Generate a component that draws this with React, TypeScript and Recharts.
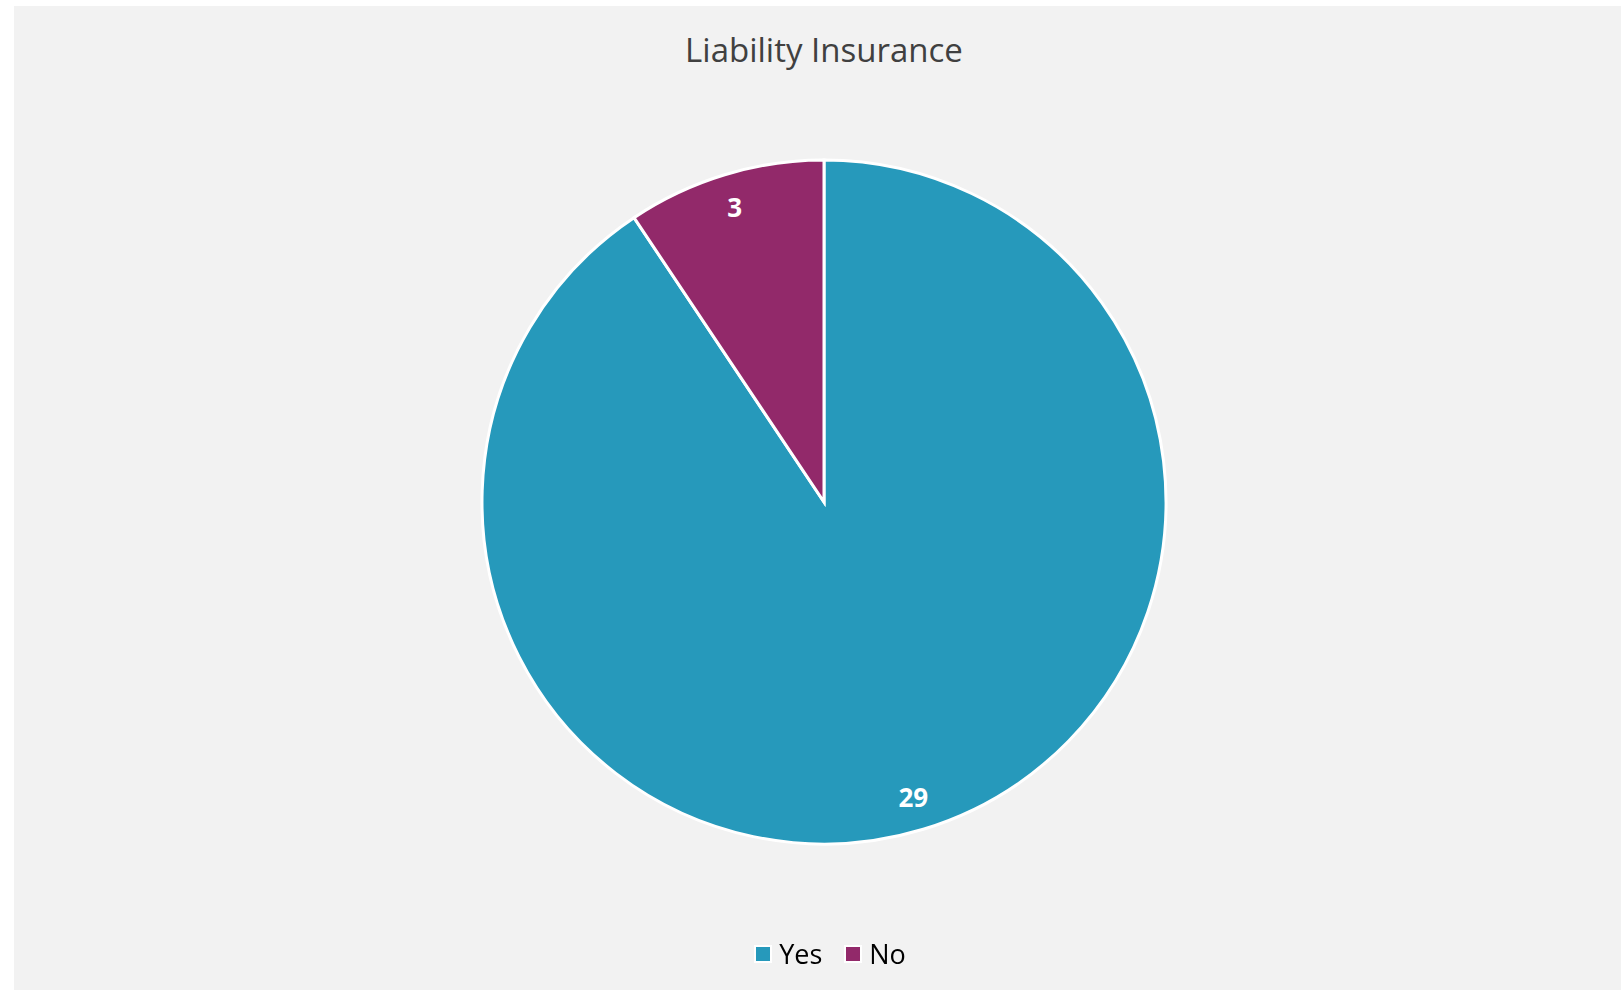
import React from "react";
import { PieChart, Pie, Cell } from "recharts";

const categories = ["Yes", "No"];
const counts = [29, 3];
const colors = ["#2699BB", "#92296A"];

const data = categories.map((name, i) => ({ name, value: counts[i] }));

const RAD = Math.PI / 180;

const renderLabel = (props: any) => {
  const { cx, cy, midAngle, outerRadius, value } = props;
  const r = outerRadius * 0.9;
  const x = cx + r * Math.cos(-midAngle * RAD);
  const y = cy + r * Math.sin(-midAngle * RAD);
  return (
    <text
      x={x}
      y={y}
      fill="#ffffff"
      fontFamily="'Open Sans', sans-serif"
      fontWeight={700}
      fontSize={26}
      textAnchor="middle"
      dominantBaseline="central"
    >
      {value}
    </text>
  );
};

function LegendRow() {
  return (
    <div
      style={{
        position: "absolute",
        left: 0,
        top: 935,
        width: 1660,
        display: "flex",
        justifyContent: "center",
        alignItems: "center",
      }}
    >
      {categories.map((name, i) => (
        <div key={name} style={{ display: "flex", alignItems: "center", marginRight: i === 0 ? 22 : 0 }}>
          <span
            style={{
              display: "inline-block",
              width: 14,
              height: 14,
              background: colors[i],
              border: "2px solid #ffffff",
              marginRight: 7,
            }}
          />
          <span
            style={{
              fontFamily: "'Open Sans', sans-serif",
              fontSize: 27,
              color: "#000000",
            }}
          >
            {name}
          </span>
        </div>
      ))}
    </div>
  );
}

export default function App() {
  return (
    <div style={{ position: "fixed", left: 0, top: 0, width: 1621, height: 990, background: "#ffffff" }}>
      <div
        style={{
          position: "absolute",
          left: 14,
          top: 6,
          width: 1607,
          height: 984,
          background: "#f2f2f2",
        }}
      />
      <div
        style={{
          position: "absolute",
          left: 0,
          top: 27,
          width: 1648,
          textAlign: "center",
          fontFamily: "'Open Sans', sans-serif",
          fontSize: 33,
          color: "#404040",
        }}
      >
        Liability Insurance
      </div>
      <div style={{ position: "absolute", left: 0, top: 0 }}>
        <PieChart width={1621} height={990} margin={{ top: 0, right: 0, bottom: 0, left: 0 }}>
          <Pie
            data={data}
            dataKey="value"
            nameKey="name"
            cx={824}
            cy={502}
            outerRadius={342}
            startAngle={90}
            endAngle={-270}
            stroke="#ffffff"
            strokeWidth={3}
            label={renderLabel}
            labelLine={false}
            isAnimationActive={false}
          >
            {data.map((d, i) => (
              <Cell key={d.name} fill={colors[i]} />
            ))}
          </Pie>
        </PieChart>
      </div>
      <LegendRow />
    </div>
  );
}
